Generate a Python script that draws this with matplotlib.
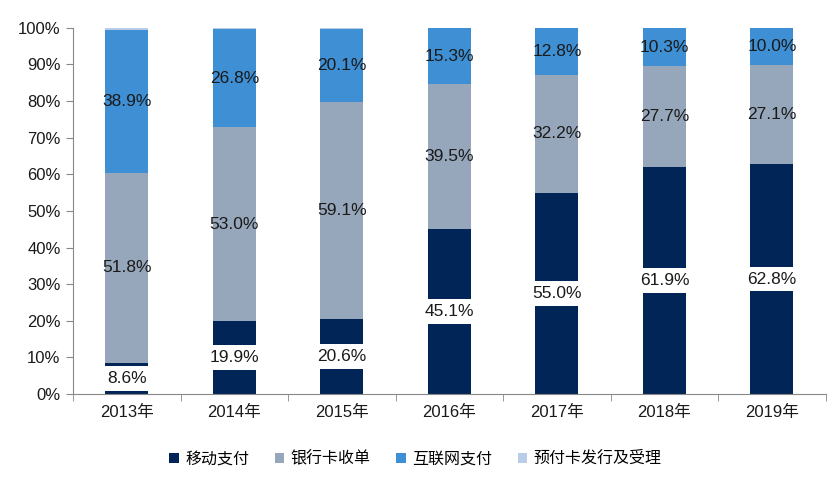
import matplotlib
matplotlib.use('Agg')
import matplotlib.pyplot as plt
import numpy as np

plt.rcParams['font.family'] = ['Liberation Sans', 'Noto Sans CJK SC', 'DejaVu Sans']

years = ['2013年', '2014年', '2015年', '2016年', '2017年', '2018年', '2019年']
mobile = [8.6, 19.9, 20.6, 45.1, 55.0, 61.9, 62.8]
bankcard = [51.8, 53.0, 59.1, 39.5, 32.2, 27.7, 27.1]
internet = [38.9, 26.8, 20.1, 15.3, 12.8, 10.3, 10.0]
prepaid = [0.7, 0.3, 0.2, 0.1, 0.0, 0.1, 0.1]

series_names = ['移动支付', '银行卡收单', '互联网支付', '预付卡发行及受理']
colors = ['#022557', '#97a7bb', '#3e8fd3', '#b9cde9']

fig = plt.figure(figsize=(8.4, 4.8), dpi=100)
ax = fig.add_axes([0.087, 0.179, 0.896, 0.763])

x = np.arange(len(years))
width = 0.4
all_series = [mobile, bankcard, internet, prepaid]
bottom = np.zeros(len(years))
for vals, name, col in zip(all_series, series_names, colors):
    ax.bar(x, vals, width, bottom=bottom, color=col, label=name, zorder=2)
    for i, v in enumerate(vals):
        if v < 5:
            continue
        y = bottom[i] + v / 2
        kw = {}
        if name == '移动支付':
            kw['bbox'] = dict(facecolor='white', edgecolor='none', pad=3.5)
        ax.text(x[i], y, f'{v:.1f}%', ha='center', va='center', fontsize=12.5,
                color='#1a1a1a', zorder=3, **kw)
    bottom = bottom + np.array(vals)

ax.set_xlim(-0.5, len(years) - 0.5)
ax.set_ylim(0, 100)
ax.set_yticks(np.arange(0, 101, 10))
ax.set_yticklabels([f'{v}%' for v in range(0, 101, 10)], fontsize=12, color='#1a1a1a')
ax.set_xticks(x)
ax.set_xticklabels(years, fontsize=12, color='#1a1a1a')
ax.set_xticks(np.arange(-0.5, len(years), 1), minor=True)
ax.tick_params(axis='x', which='major', length=0, pad=8)
ax.tick_params(axis='x', which='minor', length=5, color='#888888')
ax.tick_params(axis='y', length=5, color='#888888', pad=4)

for s in ['top', 'right']:
    ax.spines[s].set_visible(False)
for s in ['left', 'bottom']:
    ax.spines[s].set_color('#888888')

ax.legend(loc='upper center', bbox_to_anchor=(0.455, -0.115), ncol=4, frameon=False,
          fontsize=11.5, handlelength=0.6, handleheight=0.6, handletextpad=0.4,
          columnspacing=1.6)

fig.savefig('out.png', dpi=100)
